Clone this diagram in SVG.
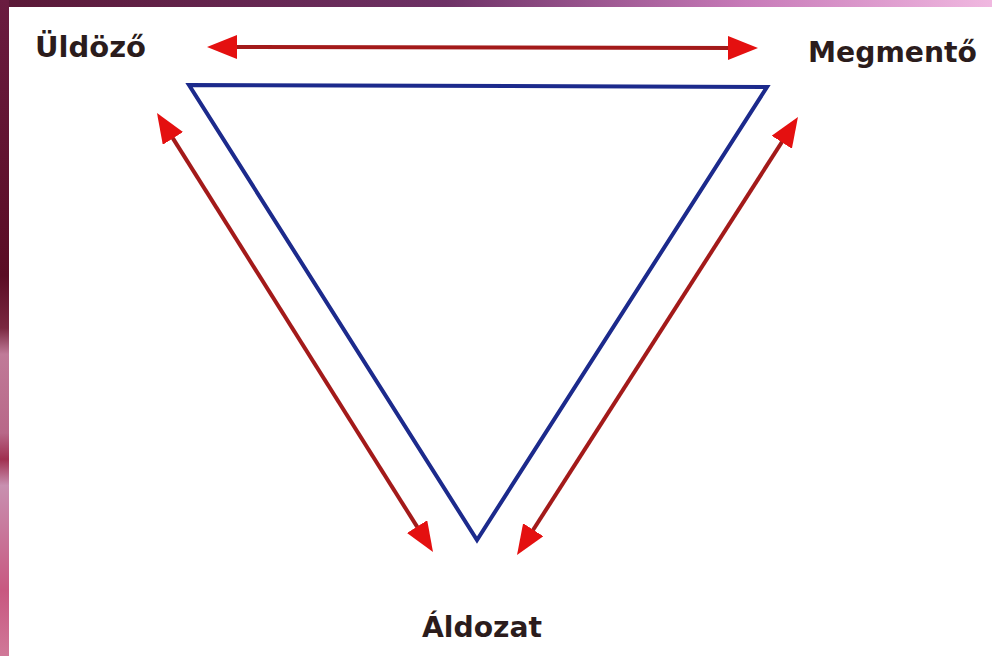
<svg xmlns="http://www.w3.org/2000/svg" width="992" height="656" viewBox="0 0 992 656">
  <defs>
    <linearGradient id="topStrip" x1="0" y1="0" x2="1" y2="0">
      <stop offset="0" stop-color="#5a1836"/>
      <stop offset="0.45" stop-color="#6e3266"/>
      <stop offset="0.75" stop-color="#c77ab8"/>
      <stop offset="1" stop-color="#f0b8e0"/>
    </linearGradient>
    <linearGradient id="leftStrip" x1="0" y1="0" x2="0" y2="1">
      <stop offset="0" stop-color="#6a1c40"/>
      <stop offset="0.42" stop-color="#5a0c24"/>
      <stop offset="0.5" stop-color="#7a2840"/>
      <stop offset="0.54" stop-color="#c07a98"/>
      <stop offset="0.66" stop-color="#b86888"/>
      <stop offset="0.7" stop-color="#a03050"/>
      <stop offset="0.74" stop-color="#c890b0"/>
      <stop offset="0.9" stop-color="#c85880"/>
      <stop offset="1" stop-color="#d07898"/>
    </linearGradient>
    <marker id="head" markerUnits="userSpaceOnUse" viewBox="0 0 30 24" refX="8" refY="12" markerWidth="30" markerHeight="24" orient="auto-start-reverse">
      <path d="M0,0 L30,12 L0,24 z" fill="#e41010"/>
    </marker>
    <style>
      .lbl { font-family: "DejaVu Sans", "Liberation Sans", sans-serif; font-weight: bold; font-size: 28px; fill: #2b1c1c; }
      .arrow { stroke: #a31a1a; stroke-width: 4; fill: none; marker-start: url(#head); marker-end: url(#head); }
      .tri { stroke: #1c2a8c; stroke-width: 4; fill: none; stroke-linejoin: miter; }
    </style>
  </defs>
  <rect x="0" y="0" width="992" height="656" fill="#ffffff"/>
  <rect x="0" y="0" width="992" height="7" fill="url(#topStrip)"/>
  <rect x="0" y="0" width="9" height="656" fill="url(#leftStrip)"/>

  <g id="triangle">
    <polygon class="tri" points="189,85 767,87 477,540"/>
  </g>

  <g id="connectors">
    <line class="arrow" x1="229" y1="47" x2="736" y2="48"/>
    <line class="arrow" x1="168.7" y1="131.6" x2="421.3" y2="533.4"/>
    <line class="arrow" x1="786.1" y1="135.5" x2="528.9" y2="536.5"/>
  </g>

  <g id="node-uldozo">
    <text class="lbl" x="35" y="57" textLength="111" lengthAdjust="spacingAndGlyphs">Üldöző</text>
  </g>
  <g id="node-megmento">
    <text class="lbl" x="808" y="62" textLength="169" lengthAdjust="spacingAndGlyphs">Megmentő</text>
  </g>
  <g id="node-aldozat">
    <text class="lbl" x="422" y="637" textLength="120" lengthAdjust="spacingAndGlyphs">Áldozat</text>
  </g>
</svg>
